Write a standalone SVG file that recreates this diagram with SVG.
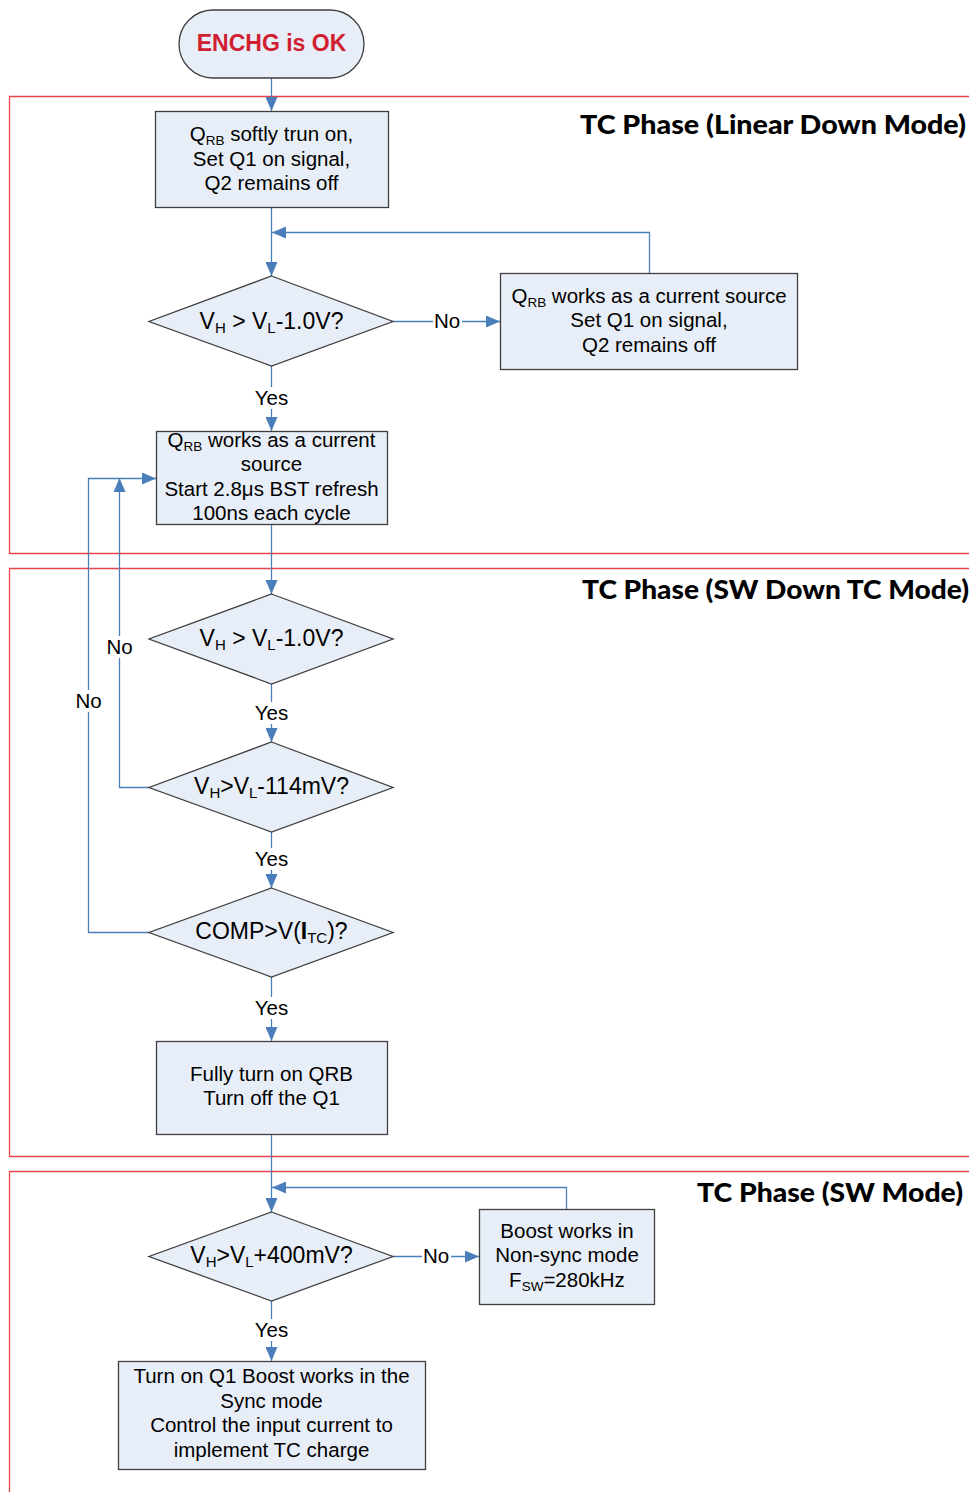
<svg xmlns="http://www.w3.org/2000/svg" width="969" height="1492" viewBox="0 0 969 1492">
<style>
.sec{fill:none;stroke:#e84347;stroke-width:1.3}
.title{font-family:Lato,"Open Sans",sans-serif;font-weight:900;font-size:27px;fill:#000}
.box{fill:#e8eef7;stroke:#3f3f3f;stroke-width:1.3}
.t{font-family:"Liberation Sans",Arial,sans-serif;font-size:20.5px;fill:#000;text-anchor:middle}
.d{font-size:23px}
.sub{font-size:13.5px}
.dsub{font-size:15px}
.c{fill:none;stroke:#4a7ebb;stroke-width:1.3}
.lb{fill:#fff}
</style>
<defs>
<marker id="ah" viewBox="0 0 14 12" refX="14" refY="6" markerWidth="14" markerHeight="12" markerUnits="userSpaceOnUse" orient="auto">
<path d="M0,0 L14,6 L0,12 z" fill="#4a7ebb"/>
</marker>
</defs>

<g id="sections">
<path class="sec" d="M969,96.5 H9.5 V553.5 H969"/>
<path class="sec" d="M969,568.5 H9.5 V1156.5 H969"/>
<path class="sec" d="M969,1171.5 H9.5 V1492"/>
<text class="title" x="580" y="134" textLength="386" lengthAdjust="spacingAndGlyphs">TC Phase (Linear Down Mode)</text>
<text class="title" x="582" y="599" textLength="387" lengthAdjust="spacingAndGlyphs">TC Phase (SW Down TC Mode)</text>
<text class="title" x="697" y="1202" textLength="266" lengthAdjust="spacingAndGlyphs">TC Phase (SW Mode)</text>
</g>

<g id="connectors">
<path class="c" d="M271.5,78 V111" marker-end="url(#ah)"/>
<path class="c" d="M271.5,208 V276" marker-end="url(#ah)"/>
<path class="c" d="M649.5,273 V232.5 H272" marker-end="url(#ah)"/>
<path class="c" d="M393,321.5 H500" marker-end="url(#ah)"/>
<path class="c" d="M271.5,366 V431" marker-end="url(#ah)"/>
<path class="c" d="M271.5,524 V594" marker-end="url(#ah)"/>
<path class="c" d="M271.5,684 V742" marker-end="url(#ah)"/>
<path class="c" d="M149,787.5 H119.5 V478" marker-end="url(#ah)"/>
<path class="c" d="M149,932.5 H88.5 V478.5 H156" marker-end="url(#ah)"/>
<path class="c" d="M271.5,832 V888" marker-end="url(#ah)"/>
<path class="c" d="M271.5,977 V1041" marker-end="url(#ah)"/>
<path class="c" d="M271.5,1134 V1212" marker-end="url(#ah)"/>
<path class="c" d="M566.5,1209 V1187.5 H272" marker-end="url(#ah)"/>
<path class="c" d="M393,1256.5 H479" marker-end="url(#ah)"/>
<path class="c" d="M271.5,1301 V1361" marker-end="url(#ah)"/>
<rect class="lb" x="433" y="310" width="29" height="22"/>
<text class="t" x="447" y="328">No</text>
<rect class="lb" x="253" y="387" width="37" height="22"/>
<text class="t" x="271.5" y="405">Yes</text>
<rect class="lb" x="105" y="636" width="29" height="22"/>
<text class="t" x="119.5" y="654">No</text>
<rect class="lb" x="74" y="690" width="29" height="22"/>
<text class="t" x="88.5" y="708">No</text>
<rect class="lb" x="253" y="702" width="37" height="22"/>
<text class="t" x="271.5" y="720">Yes</text>
<rect class="lb" x="253" y="848" width="37" height="22"/>
<text class="t" x="271.5" y="866">Yes</text>
<rect class="lb" x="253" y="997" width="37" height="22"/>
<text class="t" x="271.5" y="1015">Yes</text>
<rect class="lb" x="422" y="1245" width="29" height="22"/>
<text class="t" x="436" y="1263">No</text>
<rect class="lb" x="253" y="1319" width="37" height="22"/>
<text class="t" x="271.5" y="1337">Yes</text>
</g>

<g id="start">
<rect x="179" y="10" width="185" height="68" rx="34" ry="34" fill="#e8eef7" stroke="#3f3f3f" stroke-width="1.3"/>
<text x="271.5" y="51" font-family="Liberation Sans,Arial,sans-serif" font-weight="bold" font-size="23" fill="#d0202f" text-anchor="middle">ENCHG is OK</text>
</g>

<g id="box1">
<rect class="box" x="155.5" y="111.5" width="233" height="96"/>
<text class="t" x="271.5" y="141">Q<tspan class="sub" dy="4">RB</tspan><tspan dy="-4"> softly trun on,</tspan></text>
<text class="t" x="271.5" y="166">Set Q1 on signal,</text>
<text class="t" x="271.5" y="190">Q2 remains off</text>
</g>

<g id="dec1">
<polygon class="box" points="271.5,276 393,321.5 271.5,366 149,321.5"/>
<text class="t d" x="271.5" y="329">V<tspan class="dsub" dy="4">H</tspan><tspan dy="-4"> &gt; V</tspan><tspan class="dsub" dy="4">L</tspan><tspan dy="-4">-1.0V?</tspan></text>
</g>

<g id="box2">
<rect class="box" x="500.5" y="273.5" width="297" height="96"/>
<text class="t" x="649" y="303">Q<tspan class="sub" dy="4">RB</tspan><tspan dy="-4"> works as a current source</tspan></text>
<text class="t" x="649" y="327">Set Q1 on signal,</text>
<text class="t" x="649" y="352">Q2 remains off</text>
</g>

<g id="box3">
<rect class="box" x="156.5" y="431.5" width="231" height="93"/>
<text class="t" x="271.5" y="447">Q<tspan class="sub" dy="4">RB</tspan><tspan dy="-4"> works as a current</tspan></text>
<text class="t" x="271.5" y="471">source</text>
<text class="t" x="271.5" y="496">Start 2.8μs BST refresh</text>
<text class="t" x="271.5" y="520">100ns each cycle</text>
</g>

<g id="dec2">
<polygon class="box" points="271.5,594 393,639 271.5,684 149,639"/>
<text class="t d" x="271.5" y="646">V<tspan class="dsub" dy="4">H</tspan><tspan dy="-4"> &gt; V</tspan><tspan class="dsub" dy="4">L</tspan><tspan dy="-4">-1.0V?</tspan></text>
</g>

<g id="dec3">
<polygon class="box" points="271.5,742 393,787.5 271.5,832 149,787.5"/>
<text class="t d" x="271.5" y="794">V<tspan class="dsub" dy="4">H</tspan><tspan dy="-4">&gt;V</tspan><tspan class="dsub" dy="4">L</tspan><tspan dy="-4">-114mV?</tspan></text>
</g>

<g id="dec4">
<polygon class="box" points="271.5,888 393,932.5 271.5,977 149,932.5"/>
<text class="t d" x="271.5" y="939">COMP&gt;V(<tspan font-weight="bold">I</tspan><tspan class="dsub" dy="4">TC</tspan><tspan dy="-4">)?</tspan></text>
</g>

<g id="box5">
<rect class="box" x="156.5" y="1041.5" width="231" height="93"/>
<text class="t" x="271.5" y="1081">Fully turn on QRB</text>
<text class="t" x="271.5" y="1105">Turn off the Q1</text>
</g>

<g id="dec5">
<polygon class="box" points="271.5,1212 393,1256.5 271.5,1301 149,1256.5"/>
<text class="t d" x="271.5" y="1263">V<tspan class="dsub" dy="4">H</tspan><tspan dy="-4">&gt;V</tspan><tspan class="dsub" dy="4">L</tspan><tspan dy="-4">+400mV?</tspan></text>
</g>

<g id="box6">
<rect class="box" x="479.5" y="1209.5" width="175" height="95"/>
<text class="t" x="567" y="1238">Boost works in</text>
<text class="t" x="567" y="1262">Non-sync mode</text>
<text class="t" x="567" y="1287">F<tspan class="sub" dy="4">SW</tspan><tspan dy="-4">=280kHz</tspan></text>
</g>

<g id="box7">
<rect class="box" x="118.5" y="1361.5" width="307" height="108"/>
<text class="t" x="271.5" y="1383">Turn on Q1 Boost works in the</text>
<text class="t" x="271.5" y="1408">Sync mode</text>
<text class="t" x="271.5" y="1432">Control the input current to</text>
<text class="t" x="271.5" y="1457">implement TC charge</text>
</g>
</svg>
